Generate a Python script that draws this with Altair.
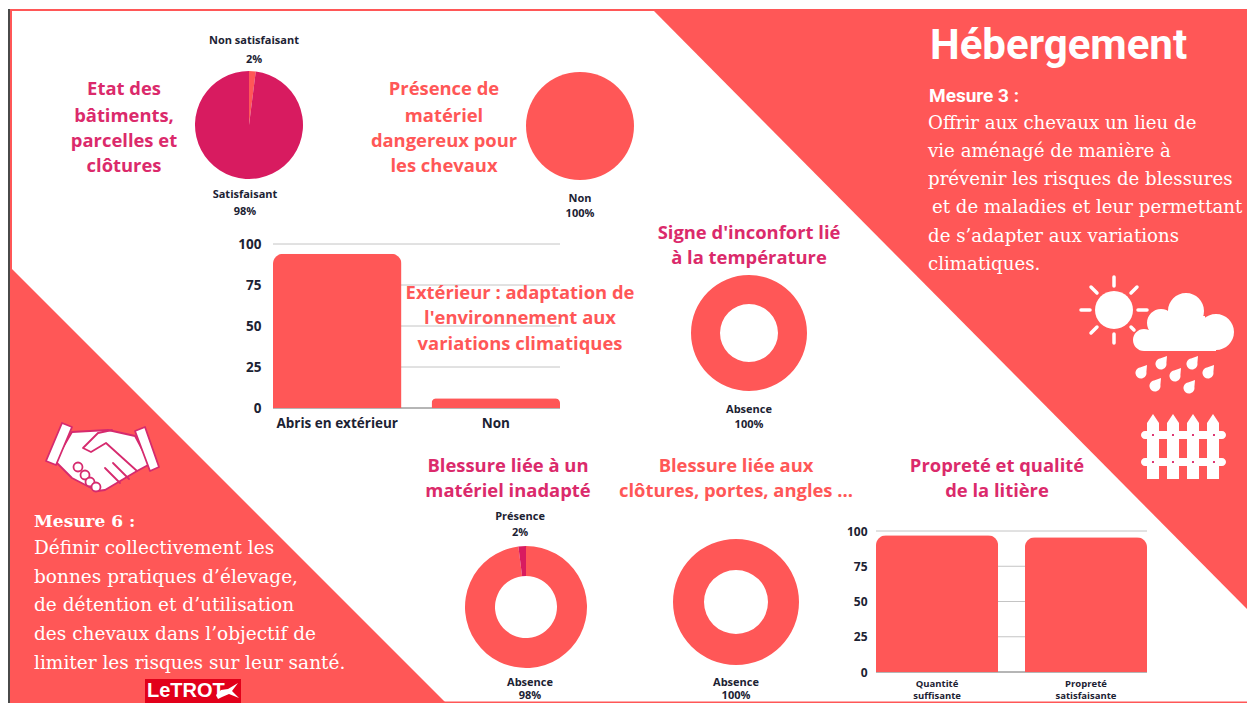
import altair as alt

CORAL = "#FF5757"
MAGENTA = "#D81B60"
HEAD_M = "#DB2A6B"
DARK = "#1C2233"
OFF = 8

pie1_labels = ["Non satisfaisant", "Satisfaisant"]
pie1_values = [2, 98]
pie2_labels = ["Non"]
pie2_values = [100]
donut_temp_labels = ["Absence"]
donut_temp_values = [100]
donut_mat_labels = ["Absence", "Présence"]
donut_mat_values = [98, 2]
donut_clo_labels = ["Absence"]
donut_clo_values = [100]
bar1_labels = ["Abris en extérieur", "Non"]
bar1_values = [94, 6]
bar2_labels = ["Quantité|suffisante", "Propreté|satisfaisante"]
bar2_values = [97, 95.5]
axis_ticks = [0, 25, 50, 75, 100]

ONE = alt.Data(values=[{"k": 1}])
W, H = 1239, 695


def shape(path, fill=None, stroke=None, sw=0):
    kw = dict(shape=path, size=4, opacity=1, strokeWidth=sw)
    kw["filled"] = fill is not None
    if fill is not None:
        kw["fill"] = fill
    else:
        kw["fill"] = "transparent"
    if stroke is not None:
        kw["stroke"] = stroke
        kw["strokeCap"] = "round"
        kw["strokeJoin"] = "round"
    else:
        kw["strokeWidth"] = 0
    return alt.Chart(ONE).mark_point(**kw).encode(x=alt.value(-OFF), y=alt.value(-OFF))


def txt(s, x, y, size, color, font="Open Sans", weight="bold", align="center"):
    return alt.Chart(ONE).mark_text(
        font=font, fontSize=size, fontWeight=weight, color=color, align=align, baseline="middle"
    ).encode(x=alt.value(x - OFF), y=alt.value(y - OFF + 1), text=alt.value(s))


def arc(labels, values, colors, cx, cy, r, ir=0):
    rows = [{"l": l, "v": v, "c": c, "o": i} for i, (l, v, c) in enumerate(zip(labels, values, colors))]
    return alt.Chart(alt.Data(values=rows)).mark_arc(outerRadius=r, innerRadius=ir).encode(
        theta=alt.Theta("v:Q", stack=True),
        order=alt.Order("o:Q"),
        color=alt.Color("c:N", scale=None),
        x=alt.value(cx - OFF),
        y=alt.value(cy - OFF),
    )


def circ(cx, cy, r):
    return f"M{cx-r} {cy}A{r} {r} 0 1 1 {cx+r} {cy}A{r} {r} 0 1 1 {cx-r} {cy}Z"


def bars(labels, values, x0, x1, y0, y1, pad, lab_size, lab_pad, y_pad, radius, y_size, line_h):
    rows = [{"l": l, "v": v} for l, v in zip(labels, values)]
    xs = alt.Scale(range=[x0 - OFF, x1 - OFF], paddingInner=pad, paddingOuter=0)
    ys = alt.Scale(domain=[0, 100], range=[y0 - OFF, y1 - OFF], nice=False)
    grid = alt.Chart(alt.Data(values=[{"t": t} for t in axis_ticks])).mark_rule(
        color="#C4C4C4", strokeWidth=1
    ).encode(
        y=alt.Y("t:Q", scale=ys, axis=None),
        x=alt.value(x0 - OFF),
        x2=alt.value(x1 - OFF),
    )
    base = alt.Chart(alt.Data(values=[{"t": 0}])).mark_rule(color="#8A8A8A", strokeWidth=1).encode(
        y=alt.Y("t:Q", scale=ys, axis=None),
        x=alt.value(x0 - OFF),
        x2=alt.value(x1 - OFF),
    )
    bar = alt.Chart(alt.Data(values=rows)).mark_bar(
        color=CORAL, cornerRadiusTopLeft=radius, cornerRadiusTopRight=radius
    ).encode(
        x=alt.X("l:N", sort=labels, scale=xs, title=None, axis=alt.Axis(
            orient="bottom", offset=-(H - (y0 - OFF)), domain=False, ticks=False, grid=False,
            labelAngle=0, labelFont="Open Sans", labelFontWeight="bold", labelFontSize=lab_size,
            labelColor=DARK, labelPadding=lab_pad, labelLimit=200,
            labelExpr="split(datum.label, '|')", labelLineHeight=line_h,
        )),
        y=alt.Y("v:Q", scale=ys, title=None, axis=alt.Axis(
            orient="left", offset=-(x0 - OFF), domain=False, ticks=False, grid=False,
            values=axis_ticks, labelFont="Open Sans", labelFontWeight="bold", labelFontSize=y_size,
            labelColor=DARK, labelPadding=y_pad,
        )),
    )
    return [grid, base, bar]


layers = []

# background shapes
layers.append(shape("M8 9H1247V11H8Z", fill=CORAL))
layers.append(shape("M8 701.5H1247V703H8Z", fill=CORAL))
layers.append(shape("M8 9H10V703H8Z", fill="#4A4A4A"))
layers.append(shape("M10 9H12V703H10Z", fill=CORAL))
layers.append(shape("M652 9H1247V609Z", fill=CORAL))
layers.append(shape("M11 268L446 703H11Z", fill=CORAL))

# pies and donuts
layers.append(arc(pie1_labels, pie1_values, [CORAL, MAGENTA], 249, 125, 54))
layers.append(arc(pie2_labels, pie2_values, [CORAL], 580, 126, 54))
layers.append(arc(donut_temp_labels, donut_temp_values, [CORAL], 749, 333, 58, 29))
layers.append(arc(donut_mat_labels, donut_mat_values, [CORAL, MAGENTA], 526, 607, 61, 31))
layers.append(arc(donut_clo_labels, donut_clo_values, [CORAL], 736, 602, 63, 32))

# bars
layers += bars(bar1_labels, bar1_values, 273, 560, 408, 244, 0.19, 13.5, 8, 12, 10, 13.5, 17)
layers += bars(bar2_labels, bar2_values, 876, 1147, 672, 531, 0.18, 9.5, 6, 9, 10, 12, 12)

# headings
HS = 18.4
for s, y in zip(["Etat des", "bâtiments,", "parcelles et", "clôtures"], [88, 115, 140, 165]):
    layers.append(txt(s, 124, y, HS, HEAD_M))
for s, y in zip(["Présence de", "matériel", "dangereux pour", "les chevaux"], [88, 115, 140, 165]):
    layers.append(txt(s, 444, y, HS, CORAL))
for s, y in zip(["Signe d'inconfort lié", "à la température"], [232, 257]):
    layers.append(txt(s, 749, y, HS, HEAD_M))
for s, y in zip(["Extérieur : adaptation de", "l'environnement aux", "variations climatiques"], [292, 317, 343]):
    layers.append(txt(s, 520, y, HS, CORAL))
for s, y in zip(["Blessure liée à un", "matériel inadapté"], [465, 490]):
    layers.append(txt(s, 508, y, HS, HEAD_M))
for s, y in zip(["Blessure liée aux", "clôtures, portes, angles ..."], [465, 490]):
    layers.append(txt(s, 736, y, HS, CORAL))
for s, y in zip(["Propreté et qualité", "de la litière"], [465, 490]):
    layers.append(txt(s, 997, y, HS, HEAD_M))

# slice labels
for s, x, y in [
    ("Non satisfaisant", 254, 40), ("2%", 254, 59), ("Satisfaisant", 245, 194), ("98%", 245, 211),
    ("Non", 580, 198), ("100%", 580, 213), ("Absence", 749, 409), ("100%", 749, 424),
    ("Présence", 520, 516), ("2%", 520, 532), ("Absence", 530, 682), ("98%", 530, 695),
    ("Absence", 736, 682), ("100%", 736, 695),
]:
    layers.append(txt(s, x, y, 11, DARK))

# right panel text
layers.append(txt("Hébergement", 930, 45, 42, "white", font="Roboto", align="left"))
layers.append(txt("Mesure 3 :", 929, 95, 19, "white", font="Roboto", align="left"))
for s, x, y in [
    ("Offrir aux chevaux un lieu de", 928, 123),
    ("vie aménagé de manière à", 928, 151),
    ("prévenir les risques de blessures", 928, 179),
    ("et de maladies et leur permettant", 932, 207),
    ("de s’adapter aux variations", 928, 236),
    ("climatiques.", 928, 264),
]:
    layers.append(txt(s, x, y, 18.2, "white", font="DejaVu Serif", weight="normal", align="left"))

# left panel text
layers.append(txt("Mesure 6 :", 34, 521, 17, "white", font="DejaVu Serif", align="left"))
for s, y in [
    ("Définir collectivement les", 547),
    ("bonnes pratiques d’élevage,", 576),
    ("de détention et d’utilisation", 604),
    ("des chevaux dans l’objectif de", 633),
    ("limiter les risques sur leur santé.", 662),
]:
    layers.append(txt(s, 34, y, 18.5, "white", font="DejaVu Serif", weight="normal", align="left"))

# sun
layers.append(shape(circ(1114, 310, 19), fill="white"))
rays = ["M1114 277V286", "M1114 334V343", "M1081 310H1090", "M1138 310H1147",
        "M1091 287L1097 293", "M1137 287L1131 293", "M1091 333L1097 327", "M1131 327L1134 330"]
layers.append(shape("".join(rays), stroke="white", sw=3.5))

# cloud
cloud = (circ(1216, 332, 18) + circ(1186, 311, 18) + circ(1161, 323, 14) + circ(1144, 340, 11)
         + "M1144 330H1216V351H1144Z" + "M1161 316H1205V332H1161Z")
layers.append(shape(cloud, fill="white", stroke=CORAL, sw=0))

# rain
drop = "M{a} {b}L{c} {d}A5.5 5.5 0 1 1 {e} {f}Z"
for dx, dy in [(1141, 373), (1161, 364), (1175, 376), (1192, 364), (1208, 373), (1155, 386), (1189, 388)]:
    layers.append(shape(drop.format(a=dx + 6, b=dy - 8, c=dx + 5.4, d=dy - 1, e=dx - 1, f=dy - 5.4), fill="white"))

# fence
fence = ""
for cx in [1153, 1173, 1193, 1213]:
    fence += f"M{cx-6} 479V423L{cx} 414L{cx+6} 423V479Z"
fence += "M1145 431H1222A4 4 0 0 1 1222 439H1145A4 4 0 0 1 1145 431Z"
fence += "M1145 458H1222A4 4 0 0 1 1222 466H1145A4 4 0 0 1 1145 458Z"
layers.append(shape(fence, fill="white"))
dots = ""
for cx in [1153, 1173, 1193, 1214]:
    for cy in [435, 462]:
        dots += circ(cx, cy, 1.1)
layers.append(shape(dots, fill=MAGENTA))

# handshake
hs_stroke = "#D62A6E"
layers.append(shape("M72 432L108 430L135 436L150 464L137 471L105 490L97 491L72 478L55 461Z",
                    fill="white", stroke=hs_stroke, sw=1.8))
for cx, cy in [(78, 467), (85, 475), (90, 482), (96, 487)]:
    layers.append(shape(circ(cx, cy, 4.5), fill="white", stroke=hs_stroke, sw=1.8))
layers.append(shape("M62 423L72 427L56 465L46 461Z", fill="white", stroke=hs_stroke, sw=1.8))
layers.append(shape("M135 431L145 427L159 467L150 471Z", fill="white", stroke=hs_stroke, sw=1.8))
layers.append(shape("M112 430L98 433L83 448L91 452L106 443L137 471M105 468L120 483M113 463L129 479",
                    stroke=hs_stroke, sw=1.8))

# logo
layers.append(shape("M145 679H241V703H145Z", fill="#E2001A"))
layers.append(txt("LeTROT", 147, 690, 20, "white", font="Liberation Sans", align="left"))
layers.append(shape("M216 695L221 690L228 689L238 683L232 691L239 698L229 694L222 697L218 699Z", fill="white"))

chart = alt.layer(*layers).resolve_scale(
    x="independent", y="independent", theta="independent"
).properties(
    width=W, height=H, padding=0, autosize="none", background="white"
).configure_view(stroke=None)

chart.save("out.html", embed_options={"renderer": "svg", "actions": False})
